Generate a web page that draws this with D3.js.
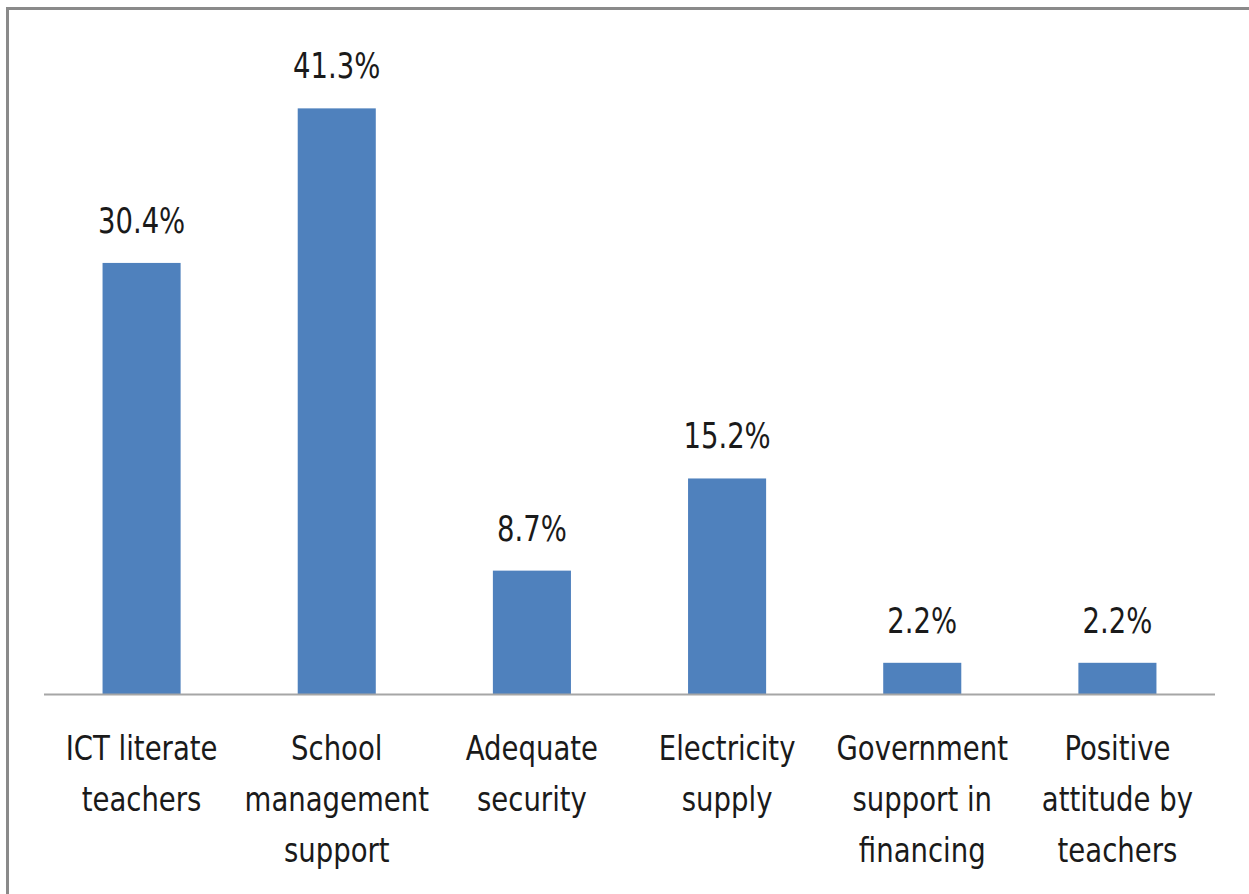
<!DOCTYPE html>
<html>
<head>
<meta charset="utf-8">
<script src="https://cdn.jsdelivr.net/npm/d3@7"></script>
<style>
  html, body { margin: 0; padding: 0; background: #fff; }
  svg { display: block; }
  text { font-family: "Liberation Sans Narrow", "DejaVu Sans Condensed", "Liberation Sans", sans-serif; fill: #1a1a1a; }
</style>
</head>
<body>
<svg id="chart" width="1249" height="894"></svg>
<script>
// Factors supporting ICT use in schools (percentage of respondents)
const categories = [
  ["ICT literate", "teachers"],
  ["School", "management", "support"],
  ["Adequate", "security"],
  ["Electricity", "supply"],
  ["Government", "support in", "financing"],
  ["Positive", "attitude by", "teachers"]
];
const values = [30.4, 41.3, 8.7, 15.2, 2.2, 2.2];
const valueLabels = ["30.4%", "41.3%", "8.7%", "15.2%", "2.2%", "2.2%"];

const svg = d3.select("#chart");
const W = 1249, H = 894;
const plot = { left: 44, right: 1215, base: 694 };
const pxPerUnit = 14.18;
const squeeze = 0.9; // narrow the glyphs to a condensed look

// Outer chart frame (only the top and left edges fall inside the view)
svg.append("rect")
  .attr("x", 7.5).attr("y", 8.5)
  .attr("width", W + 20).attr("height", H + 20)
  .attr("fill", "none")
  .attr("stroke", "#8a8a8a")
  .attr("stroke-width", 3);

const idx = d3.range(values.length);
const x = d3.scaleBand()
  .domain(idx)
  .range([plot.left, plot.right])
  .paddingInner(0.6)
  .paddingOuter(0.3);

const yMax = 45;
const y = d3.scaleLinear()
  .domain([0, yMax])
  .range([plot.base, plot.base - yMax * pxPerUnit]);

const cx = i => x(i) + x.bandwidth() / 2;

// Bars
svg.append("g").selectAll("rect")
  .data(idx)
  .join("rect")
  .attr("x", i => x(i))
  .attr("y", i => y(values[i]))
  .attr("width", x.bandwidth())
  .attr("height", i => y(0) - y(values[i]))
  .attr("fill", "#4f81bd");

// Category axis line
svg.append("line")
  .attr("x1", plot.left).attr("x2", plot.right)
  .attr("y1", plot.base + 0.5).attr("y2", plot.base + 0.5)
  .attr("stroke", "#a6a6a6")
  .attr("stroke-width", 2);

// Value labels above the bars
svg.append("g").selectAll("text")
  .data(idx)
  .join("text")
  .attr("transform", i => `translate(${cx(i)},${y(values[i]) - 30}) scale(${squeeze * 0.97},1)`)
  .attr("text-anchor", "middle")
  .attr("font-size", 35)
  .text(i => valueLabels[i]);

// Wrapped category labels
const catG = svg.append("g").selectAll("text")
  .data(idx)
  .join("text")
  .attr("text-anchor", "middle")
  .attr("font-size", 34)
  .attr("transform", i => `translate(${cx(i)},760) scale(${squeeze},1)`);

catG.selectAll("tspan")
  .data(i => categories[i])
  .join("tspan")
  .attr("x", 0)
  .attr("dy", (d, j) => j === 0 ? 0 : 51)
  .text(d => d);
</script>
</body>
</html>
